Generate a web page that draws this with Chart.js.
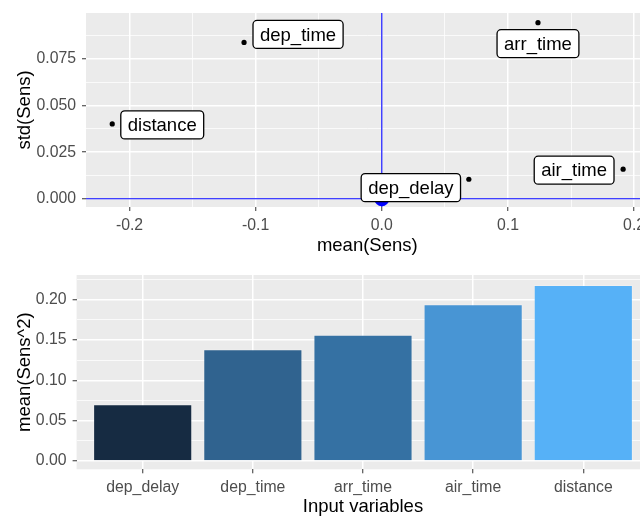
<!DOCTYPE html>
<html>
<head>
<meta charset="utf-8">
<script src="https://cdn.jsdelivr.net/npm/chart.js@4/dist/chart.umd.min.js"></script>
<style>
  html, body { margin: 0; padding: 0; background: #ffffff; width: 640px; height: 518px; overflow: hidden; position: relative; }
  canvas { position: absolute; left: 0; }
  #sensScatter { top: 0; }
  #sensBars { top: 258px; }
</style>
</head>
<body>
<canvas id="sensScatter" width="680" height="258"></canvas>
<canvas id="sensBars" width="660" height="260"></canvas>
<script>
// Input variables and their sensitivity measures
const variables   = ['dep_delay', 'dep_time', 'arr_time', 'air_time', 'distance'];
const meanSens    = [0.0690, -0.1092, 0.1238, 0.1913, -0.2137];
const stdSens     = [0.0105, 0.0839, 0.0945, 0.0159, 0.0402];
const meanSqSens  = [0.0703, 0.1385, 0.1566, 0.1942, 0.2182];
const origin      = { mean: 0, std: 0 };

// Labelled (major) tick values
const meanTicks = [-0.2, -0.1, 0, 0.1, 0.2];
const stdTicks  = [0, 0.025, 0.05, 0.075];
const sqTicks   = [0, 0.05, 0.1, 0.15, 0.2];

// Bar fills, dark to light with increasing mean(Sens^2)
const barColors = ['#162B42', '#30638F', '#3571A3', '#4895D4', '#56B1F7'];

// Label box offsets (px) from each point, so the boxes sit clear of their dots
const labelNudge = [[-58, 8.4], [54, -8], [0, 21], [-49, 1], [50, 1]];

const FONT = "'Liberation Sans', Arial, Helvetica, sans-serif";
const TICK_COLOR = '#4D4D4D';
Chart.defaults.font.family = FONT;

// Major ticks plus the minor ones halfway between them
function makeTicks(major, lo, hi) {
  const half = (major[1] - major[0]) / 2;
  const out = [];
  for (let k = Math.ceil(lo / half - 1e-9); k <= Math.floor(hi / half + 1e-9); k++) {
    const v = +(k * half).toFixed(8);
    out.push({ value: v, primary: major.some(m => Math.abs(m - v) < 1e-9) });
  }
  return out;
}

function gridOpts() {
  return {
    color: '#FFFFFF',
    lineWidth: c => (c.tick && c.tick.primary) ? 1.5 : 0.75,
    tickColor: c => (c.tick && c.tick.primary) ? '#333333' : 'rgba(0,0,0,0)',
    tickWidth: 1,
    tickLength: 4,
    drawTicks: true
  };
}

// Fixed axis box sizes; label overhang must not push the plot panel around
function fixSize(prop, size) {
  return s => {
    s[prop] = size;
    s.paddingTop = 0; s.paddingBottom = 0; s.paddingLeft = 0; s.paddingRight = 0;
  };
}

const panelBg = {
  id: 'panelBg',
  beforeDraw(chart) {
    const { ctx, chartArea: a } = chart;
    ctx.save();
    ctx.fillStyle = '#EBEBEB';
    ctx.fillRect(a.left, a.top, a.right - a.left, a.bottom - a.top);
    ctx.restore();
  }
};

// Blue reference lines through x = 0 and y = 0
const zeroLines = {
  id: 'zeroLines',
  beforeDatasetsDraw(chart) {
    const { ctx, chartArea: a, scales: { x, y } } = chart;
    const px = x.getPixelForValue(origin.mean);
    const py = y.getPixelForValue(origin.std);
    ctx.save();
    ctx.beginPath();
    ctx.rect(a.left, a.top, a.right - a.left, a.bottom - a.top);
    ctx.clip();
    ctx.strokeStyle = '#0000FF';
    ctx.lineWidth = 1.1;
    ctx.beginPath();
    ctx.moveTo(px, a.top); ctx.lineTo(px, a.bottom);
    ctx.stroke();
    ctx.beginPath();
    ctx.moveTo(a.left, py); ctx.lineTo(a.right, py);
    ctx.stroke();
    ctx.restore();
  }
};

// Boxed text labels next to each point
const pointLabels = {
  id: 'pointLabels',
  afterDatasetsDraw(chart) {
    const { ctx, scales: { x, y } } = chart;
    ctx.save();
    ctx.font = '18.5px ' + FONT;
    ctx.textAlign = 'center';
    ctx.textBaseline = 'middle';
    variables.forEach((name, i) => {
      const cx = x.getPixelForValue(meanSens[i]) + labelNudge[i][0];
      const cy = y.getPixelForValue(stdSens[i]) + labelNudge[i][1];
      const w = ctx.measureText(name).width + 14;
      const h = 28;
      ctx.beginPath();
      ctx.roundRect(cx - w / 2, cy - h / 2, w, h, 4);
      ctx.fillStyle = '#FFFFFF';
      ctx.fill();
      ctx.lineWidth = 1.3;
      ctx.strokeStyle = '#000000';
      ctx.stroke();
      ctx.fillStyle = '#000000';
      ctx.fillText(name, cx, cy + 1);
    });
    ctx.restore();
  }
};

const tickFont = { family: FONT, size: 15.8 };
const titleFont = { family: FONT, size: 18.5 };

new Chart(document.getElementById('sensScatter'), {
  type: 'scatter',
  data: {
    datasets: [
      {
        data: variables.map((v, i) => ({ x: meanSens[i], y: stdSens[i] })),
        pointRadius: 2.6,
        pointHoverRadius: 2.6,
        backgroundColor: '#000000',
        borderWidth: 0
      },
      {
        data: [{ x: origin.mean, y: origin.std }],
        pointRadius: 7.5,
        pointHoverRadius: 7.5,
        backgroundColor: '#0000FF',
        borderWidth: 0
      }
    ]
  },
  options: {
    responsive: false,
    animation: false,
    devicePixelRatio: 1,
    layout: { padding: { top: 13, right: 31.4, left: 0, bottom: 0 } },
    plugins: { legend: { display: false }, tooltip: { enabled: false } },
    scales: {
      x: {
        type: 'linear', min: -0.2345, max: 0.2115,
        afterBuildTicks: s => { s.ticks = makeTicks(meanTicks, -0.2345, 0.2115); },
        afterFit: fixSize('height', 51),
        ticks: {
          autoSkip: false, maxRotation: 0, padding: 5, color: TICK_COLOR, font: tickFont,
          callback: (v, i, t) => t[i].primary ? v.toFixed(1) : ''
        },
        grid: gridOpts(),
        border: { display: false },
        title: { display: true, text: 'mean(Sens)', color: '#000000', font: titleFont, padding: { top: 0, bottom: 1 } }
      },
      y: {
        type: 'linear', min: -0.0044, max: 0.0997,
        afterBuildTicks: s => { s.ticks = makeTicks(stdTicks, -0.0044, 0.0997); },
        afterFit: fixSize('width', 86),
        ticks: {
          autoSkip: false, padding: 6, color: TICK_COLOR, font: tickFont,
          callback: (v, i, t) => t[i].primary ? v.toFixed(3) : ''
        },
        grid: gridOpts(),
        border: { display: false },
        title: { display: true, text: 'std(Sens)', color: '#000000', font: titleFont, padding: { top: 13.9, bottom: 0 } }
      }
    }
  },
  plugins: [panelBg, zeroLines, pointLabels]
});

new Chart(document.getElementById('sensBars'), {
  type: 'bar',
  data: {
    datasets: [{
      data: variables.map((v, i) => ({ x: i, y: meanSqSens[i] })),
      backgroundColor: barColors,
      borderColor: 'rgba(255,255,255,0.22)',
      borderWidth: 1,
      barPercentage: 0.9,
      categoryPercentage: 1
    }]
  },
  options: {
    responsive: false,
    animation: false,
    devicePixelRatio: 1,
    layout: { padding: { top: 17, right: 10.6, left: 0, bottom: 0 } },
    plugins: { legend: { display: false }, tooltip: { enabled: false } },
    scales: {
      x: {
        type: 'linear', min: -0.6, max: variables.length - 0.4, offset: false,
        afterBuildTicks: s => { s.ticks = variables.map((v, i) => ({ value: i, primary: true })); },
        afterFit: fixSize('height', 48.7),
        ticks: {
          autoSkip: false, maxRotation: 0, padding: 5, color: TICK_COLOR, font: tickFont,
          callback: v => variables[Math.round(v)]
        },
        grid: Object.assign(gridOpts(), { offset: false }),
        border: { display: false },
        title: { display: true, text: 'Input variables', color: '#000000', font: titleFont, padding: { top: 0, bottom: 0 } }
      },
      y: {
        type: 'linear', min: -0.0103, max: 0.2306,
        afterBuildTicks: s => { s.ticks = makeTicks(sqTicks, -0.0103, 0.2306); },
        afterFit: fixSize('width', 76.6),
        ticks: {
          autoSkip: false, padding: 6, color: TICK_COLOR, font: tickFont,
          callback: (v, i, t) => t[i].primary ? v.toFixed(2) : ''
        },
        grid: gridOpts(),
        border: { display: false },
        title: { display: true, text: 'mean(Sens^2)', color: '#000000', font: titleFont, padding: { top: 13.9, bottom: 0 } }
      }
    }
  },
  plugins: [panelBg]
});
</script>
</body>
</html>
